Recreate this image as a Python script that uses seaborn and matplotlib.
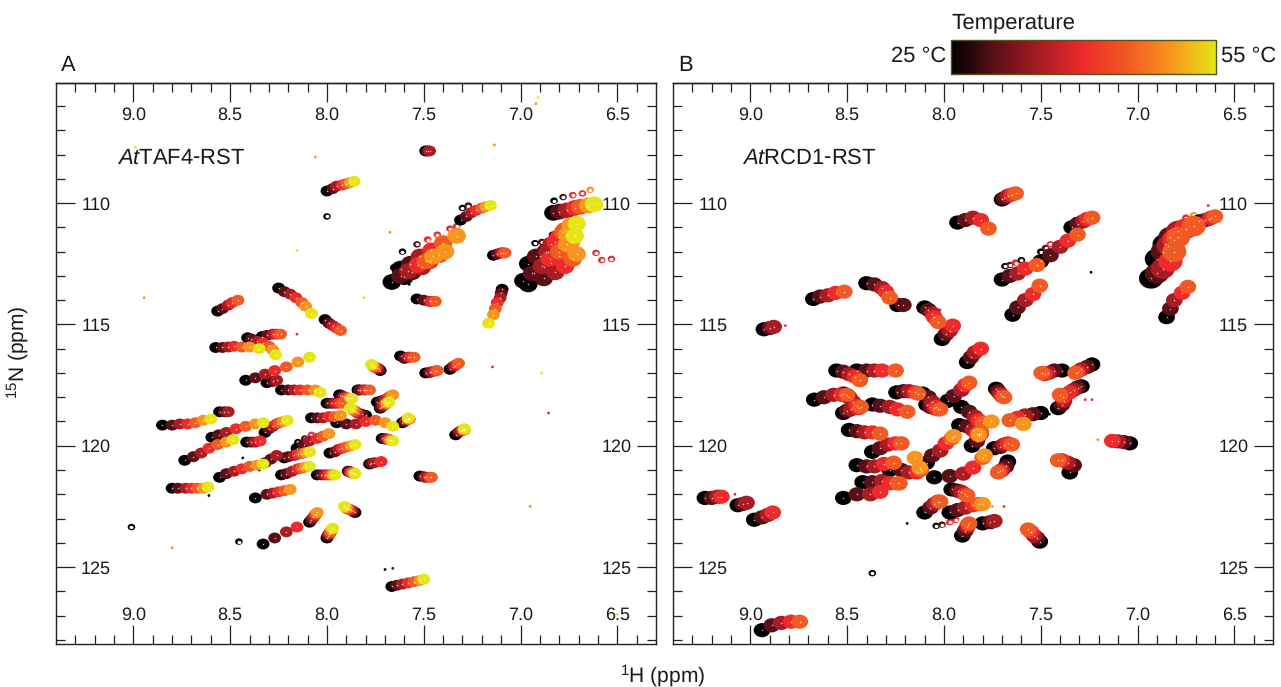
#!/usr/bin/python3
import numpy as np
import pandas as pd
import matplotlib
matplotlib.use("Agg")
import matplotlib.pyplot as plt
import seaborn as sns
from matplotlib.colors import LinearSegmentedColormap, Normalize
from matplotlib.cm import ScalarMappable
from matplotlib.path import Path
from matplotlib.transforms import Affine2D

sns.set_theme(style="ticks")
plt.rcParams["font.family"] = ["Liberation Sans", "DejaVu Sans"]
plt.rcParams["mathtext.fontset"] = "custom"
plt.rcParams["mathtext.rm"] = "Liberation Sans"
plt.rcParams["mathtext.it"] = "Liberation Sans:italic"
plt.rcParams["text.hinting"] = "none"
plt.rcParams["text.hinting_factor"] = 1

temps = [25, 30, 35, 40, 45, 50, 55]
cbar_colors = ["#000000", "#5a1016", "#a81c24", "#ee2a2a", "#f15a22", "#f7941e", "#e6e617"]
x_major = [9.0, 8.5, 8.0, 7.5, 7.0, 6.5]
y_major = [110, 115, 120, 125]

# peak positions (1H, 15N), one entry per temperature step
taf4_trails = [
    [(8.00,109.5),(7.97,109.4),(7.95,109.3),(7.92,109.25),(7.90,109.2),(7.88,109.15),(7.86,109.1)],
    [(7.49,107.85),(7.48,107.85),(7.47,107.85)],
    [(8.565,114.45),(8.54,114.35),(8.51,114.2),(8.49,114.1),(8.46,114.0)],
    [(8.25,113.5),(8.22,113.65),(8.19,113.75),(8.16,113.9),(8.13,114.1),(8.11,114.25),(8.08,114.55)],
    [(8.01,114.8),(7.99,114.95),(7.97,115.05),(7.95,115.15),(7.93,115.25)],
    [(8.575,115.95),(8.54,115.95),(8.51,115.93),(8.48,115.9),(8.44,115.93),(8.40,115.93),(8.35,116.0)],
    [(8.41,115.55),(8.39,115.6),(8.36,115.7),(8.33,115.75),(8.30,115.9),(8.28,116.05),(8.265,116.25)],
    [(8.335,115.5),(8.31,115.45),(8.28,115.4),(8.26,115.4),(8.24,115.4)],
    [(8.42,117.3),(8.37,117.2),(8.32,117.05),(8.27,116.9),(8.21,116.75),(8.15,116.55),(8.09,116.35)],
    [(8.31,117.4),(8.28,117.35),(8.26,117.3)],
    [(8.235,117.7),(8.20,117.7),(8.17,117.7),(8.14,117.7),(8.10,117.7),(8.06,117.7),(8.035,117.8)],
    [(8.0,118.25),(7.98,118.25),(7.96,118.25),(7.94,118.25),(7.92,118.25)],
    [(8.08,118.85),(8.05,118.85),(8.02,118.85),(7.99,118.8),(7.96,118.8),(7.93,118.75)],
    [(8.555,118.6),(8.53,118.6),(8.51,118.6)],
    [(8.85,119.15),(8.80,119.15),(8.76,119.1),(8.72,119.1),(8.68,119.05),(8.64,118.95),(8.60,118.9)],
    [(8.595,119.65),(8.56,119.55),(8.52,119.45),(8.47,119.3),(8.42,119.2),(8.37,119.1),(8.33,119.05)],
    [(8.735,120.6),(8.69,120.45),(8.65,120.3),(8.61,120.1),(8.565,119.95),(8.52,119.85),(8.485,119.75)],
    [(8.415,119.85),(8.39,119.85),(8.37,119.85),(8.345,119.8)],
    [(8.32,119.45),(8.30,119.3),(8.28,119.2),(8.26,119.1),(8.245,119.05),(8.225,119.0),(8.205,118.95)],
    [(8.555,121.3),(8.52,121.15),(8.48,121.05),(8.44,120.95),(8.40,120.85),(8.36,120.8),(8.33,120.75)],
    [(8.32,120.7),(8.29,120.55),(8.26,120.4)],
    [(8.80,121.75),(8.77,121.75),(8.73,121.75),(8.70,121.75),(8.67,121.75),(8.64,121.75),(8.615,121.7)],
    [(8.37,122.15),(8.31,122.0),(8.28,121.95),(8.25,121.9),(8.22,121.85),(8.19,121.8)],
    [(8.22,120.5),(8.20,120.45),(8.17,120.4),(8.15,120.35),(8.13,120.32),(8.11,120.28),(8.09,120.25)],
    [(8.155,120.1),(8.12,119.95),(8.09,119.8),(8.05,119.7),(8.02,119.6),(7.99,119.5)],
    [(8.235,121.2),(8.21,121.15),(8.18,121.05),(8.15,120.95),(8.13,120.92),(8.11,120.88),(8.09,120.85)],
    [(8.05,121.2),(8.03,121.2),(8.01,121.2),(7.995,121.2),(7.98,121.2),(7.97,121.2),(7.96,121.2)],
    [(7.985,120.3),(7.96,120.25),(7.94,120.15),(7.92,120.1),(7.90,120.05),(7.875,120.0),(7.855,119.95)],
    [(8.33,124.05),(8.27,123.8),(8.21,123.55),(8.155,123.35)],
    [(8.09,123.15),(8.08,123.05),(8.07,122.95),(8.06,122.85),(8.055,122.8),(8.05,122.75)],
    [(8.0,123.8),(7.995,123.7),(7.99,123.65),(7.985,123.6),(7.98,123.55),(7.975,123.45),(7.97,123.4)],
    [(7.62,116.3),(7.60,116.4),(7.58,116.35),(7.57,116.35),(7.55,116.35)],
    [(7.725,116.9),(7.73,116.85),(7.74,116.8),(7.75,116.78),(7.755,116.75),(7.765,116.7),(7.77,116.65)],
    [(7.49,117.0),(7.47,116.98),(7.46,116.95),(7.44,116.92),(7.43,116.9)],
    [(7.365,116.85),(7.35,116.75),(7.34,116.7),(7.33,116.65),(7.32,116.6)],
    [(7.935,117.9),(7.92,117.95),(7.91,118.0),(7.90,118.02),(7.89,118.03),(7.88,118.05),(7.87,118.05)],
    [(7.84,117.7),(7.83,117.7),(7.81,117.7),(7.80,117.7),(7.78,117.7)],
    [(7.74,118.2),(7.72,118.15),(7.70,118.1),(7.68,118.0),(7.67,117.95),(7.66,117.9)],
    [(7.725,118.45),(7.72,118.4),(7.71,118.35),(7.70,118.3),(7.695,118.25),(7.69,118.25),(7.68,118.2)],
    [(7.95,119.05),(7.90,119.1),(7.85,119.1),(7.80,119.0),(7.75,118.95),(7.70,119.05),(7.66,119.2)],
    [(7.80,118.75),(7.82,118.7),(7.84,118.65),(7.85,118.6),(7.86,118.55),(7.87,118.5),(7.88,118.45)],
    [(7.61,119.05),(7.60,119.0),(7.59,118.95),(7.58,118.9),(7.575,118.9),(7.58,118.9),(7.58,118.85)],
    [(7.715,119.7),(7.70,119.72),(7.69,119.72),(7.68,119.75),(7.675,119.75),(7.67,119.78),(7.66,119.8)],
    [(7.335,119.55),(7.32,119.45),(7.31,119.4),(7.30,119.35),(7.295,119.35),(7.29,119.35),(7.29,119.3)],
    [(7.78,120.75),(7.77,120.72),(7.755,120.7),(7.72,120.65)],
    [(7.89,121.05),(7.885,121.07),(7.88,121.08),(7.875,121.1),(7.87,121.12),(7.86,121.13),(7.855,121.15)],
    [(7.52,121.25),(7.50,121.28),(7.49,121.3),(7.47,121.3),(7.46,121.3)],
    [(7.855,122.75),(7.865,122.7),(7.875,122.65),(7.885,122.62),(7.895,122.6),(7.90,122.55),(7.91,122.5)],
    [(7.665,125.8),(7.64,125.75),(7.61,125.7),(7.58,125.65),(7.55,125.6),(7.52,125.55),(7.50,125.5)],
    [(7.31,110.7),(7.28,110.55),(7.255,110.4),(7.23,110.3),(7.20,110.2),(7.18,110.15),(7.155,110.1)],
    [(7.14,112.15),(7.12,112.1),(7.10,112.05),(7.09,112.05),(7.08,112.05)],
    [(7.095,113.55),(7.10,113.7),(7.105,113.9),(7.12,114.1),(7.13,114.35),(7.14,114.6),(7.165,114.95)],
    [(7.535,113.95),(7.50,114.0),(7.47,114.05),(7.46,114.05),(7.44,114.05)],
]
taf4_broad = [
    [(7.665,113.25),(7.62,113.0),(7.58,112.8),(7.53,112.55),(7.49,112.4),(7.45,112.2)],
    [(7.62,112.7),(7.57,112.5),(7.52,112.2),(7.46,111.95),(7.40,111.65),(7.33,111.35)],
    [(7.60,113.05),(7.56,112.85),(7.51,112.65),(7.47,112.4),(7.42,112.15),(7.39,112.0)],
    [(6.985,113.2),(6.94,112.9),(6.89,112.6),(6.85,112.3),(6.80,112.0),(6.76,111.7),(6.72,111.35)],
    [(6.96,112.5),(6.92,112.2),(6.86,112.0),(6.82,111.6),(6.78,111.2),(6.74,110.9),(6.71,110.85)],
    [(6.96,113.35),(6.88,113.1),(6.82,112.85),(6.77,112.6),(6.73,112.3),(6.71,112.1)],
    [(6.93,112.9),(6.88,112.65),(6.84,112.45),(6.80,112.2),(6.77,111.9),(6.74,111.6)],
    [(6.90,112.2),(6.87,112.0),(6.84,111.7),(6.80,111.4),(6.77,111.1),(6.76,111.3)],
    [(6.83,110.4),(6.80,110.35),(6.76,110.3),(6.72,110.2),(6.69,110.15),(6.65,110.1),(6.62,110.05)],
]
taf4_rings = [
    (8.0,110.55,25),(7.30,110.2,25),(7.27,110.1,30),(7.48,111.5,40),(7.43,111.3,40),(7.365,111.05,40),
    (7.33,110.95,40),(7.61,112.0,25),(7.535,111.7,30),(7.655,112.65,25),(6.827,109.9,25),(6.78,109.75,30),
    (6.73,109.67,40),(6.68,109.6,40),(6.64,109.45,50),(6.61,112.05,40),(6.58,112.35,40),(6.53,112.3,40),
    (6.925,111.65,25),(6.89,111.6,30),(6.835,111.3,30),(8.15,119.85,25),(8.115,119.7,30),(8.08,119.55,40),
    (8.455,123.95,25),(9.01,123.35,25),
]
taf4_specks = [
    (6.91,105.65,55),(6.92,105.9,50),(7.135,107.6,50),(8.06,108.1,50),(8.155,111.95,55),(8.945,113.9,50),
    (7.81,113.9,55),(8.155,115.4,40),(8.99,107.7,55),(7.145,116.75,40),(6.89,117.0,55),(6.855,118.65,40),
    (6.95,122.5,50),(8.80,124.2,50),(7.66,125.05,30),(7.70,125.1,25),(6.5,126.95,55),(7.675,111.2,50),
    (8.435,120.5,25),(8.35,121.0,25),(8.61,122.05,25),(7.575,113.35,25),
]

rcd1_trails = [
    [(8.93,115.2),(8.90,115.15),(8.88,115.1)],
    [(8.675,113.95),(8.64,113.85),(8.60,113.8),(8.56,113.7),(8.515,113.65)],
    [(8.40,113.3),(8.36,113.35),(8.32,113.5),(8.30,113.65),(8.28,113.9)],
    [(8.24,114.2),(8.21,114.2)],
    [(8.10,114.3),(8.08,114.4),(8.06,114.55),(8.05,114.7),(8.03,114.9)],
    [(8.01,115.6),(7.99,115.4),(7.97,115.25),(7.955,115.05)],
    [(8.555,116.9),(8.52,116.95),(8.49,117.05),(8.46,117.15),(8.435,117.3)],
    [(8.45,116.9),(8.40,116.9),(8.36,116.9),(8.32,116.9),(8.25,116.9)],
    [(8.67,118.1),(8.62,118.0),(8.57,117.9),(8.53,117.9),(8.50,117.9)],
    [(8.52,117.85),(8.49,118.0),(8.47,118.2),(8.45,118.35),(8.43,118.4)],
    [(8.52,118.65),(8.50,118.55),(8.48,118.5),(8.44,118.45)],
    [(8.37,118.3),(8.33,118.35),(8.28,118.4),(8.24,118.5),(8.19,118.6)],
    [(8.245,117.8),(8.21,117.75),(8.18,117.75),(8.15,117.8),(8.135,117.85)],
    [(8.09,118.3),(8.07,118.4),(8.05,118.45),(8.03,118.5)],
    [(7.70,109.85),(7.69,109.8),(7.67,109.7),(7.65,109.65),(7.63,109.6)],
    [(7.93,110.8),(7.89,110.7),(7.85,110.6),(7.81,110.7),(7.77,111.05)],
    [(7.70,113.15),(7.66,113.0),(7.62,112.9),(7.58,112.7),(7.52,112.55)],
    [(7.50,112.4),(7.45,112.15),(7.40,111.8),(7.36,111.55),(7.31,111.3)],
    [(7.34,111.0),(7.31,110.85),(7.28,110.75),(7.26,110.65),(7.235,110.6)],
    [(7.645,114.6),(7.62,114.3),(7.58,114.0),(7.54,113.75),(7.505,113.4)],
    [(6.68,110.75),(6.65,110.7),(6.63,110.65),(6.62,110.6),(6.60,110.55)],
    [(6.85,114.7),(6.83,114.35),(6.81,114.0),(6.77,113.7),(6.74,113.45)],
    [(7.88,116.55),(7.86,116.35),(7.84,116.15),(7.81,116.0)],
    [(7.39,116.9),(7.43,116.9),(7.46,117.0),(7.48,117.05),(7.495,117.0)],
    [(7.235,116.65),(7.26,116.75),(7.29,116.85),(7.31,116.95),(7.32,117.0)],
    [(7.41,118.45),(7.39,118.3),(7.38,118.15),(7.385,118.0),(7.40,117.9)],
    [(7.29,117.55),(7.31,117.6),(7.33,117.7),(7.35,117.8)],
    [(7.73,117.65),(7.72,117.75),(7.71,117.85),(7.70,117.95),(7.69,118.0)],
    [(8.11,117.85),(8.08,118.0),(8.06,118.2),(8.04,118.4),(8.02,118.5)],
    [(7.98,118.15),(7.95,117.95),(7.91,117.7),(7.89,117.5),(7.87,117.4)],
    [(7.91,118.4),(7.87,118.6),(7.84,118.8),(7.82,118.95),(7.80,119.05),(7.755,119.0)],
    [(7.92,119.15),(7.88,119.2),(7.85,119.35),(7.83,119.5),(7.82,119.5),(7.82,119.55)],
    [(7.855,120.0),(7.83,119.8),(7.82,119.6),(7.81,119.5),(7.81,119.4)],
    [(7.50,118.65),(7.54,118.7),(7.58,118.75),(7.62,118.85),(7.66,118.95),(7.59,119.1)],
    [(7.74,120.1),(7.71,120.05),(7.69,119.95),(7.67,119.9),(7.65,119.95)],
    [(7.67,120.65),(7.68,120.85),(7.70,121.0),(7.71,121.05),(7.72,121.1)],
    [(8.09,120.7),(8.06,120.4),(8.02,120.2),(7.99,119.9),(7.96,119.7),(7.95,119.6)],
    [(8.05,121.3),(7.97,121.25),(7.90,121.15),(7.85,120.9),(7.80,120.5),(7.79,120.4)],
    [(7.96,121.8),(7.93,121.85),(7.91,121.9),(7.89,122.0),(7.88,122.05)],
    [(8.10,122.75),(8.07,122.55),(8.05,122.4),(8.03,122.3),(8.02,122.3)],
    [(7.97,122.75),(7.93,122.65),(7.89,122.55),(7.85,122.45),(7.82,122.4),(7.80,122.4)],
    [(7.905,123.7),(7.89,123.5),(7.88,123.35),(7.875,123.25),(7.87,123.2)],
    [(7.505,123.95),(7.52,123.8),(7.535,123.7),(7.55,123.55),(7.565,123.45)],
    [(7.35,121.1),(7.33,120.8),(7.36,120.7),(7.39,120.6),(7.41,120.6)],
    [(7.04,119.9),(7.07,119.85),(7.10,119.82),(7.13,119.8)],
    [(8.45,120.8),(8.40,120.85),(8.36,120.85),(8.31,120.75),(8.26,120.7),(8.15,120.5)],
    [(8.42,121.5),(8.37,121.5),(8.32,121.45),(8.28,121.55),(8.23,121.55),(8.125,120.9)],
    [(8.52,122.15),(8.45,122.0),(8.38,122.0),(8.33,121.9),(8.24,121.55)],
    [(8.28,121.0),(8.22,121.0),(8.18,121.1),(8.14,121.1),(8.12,121.0)],
    [(8.37,120.25),(8.33,120.1),(8.29,119.95),(8.25,119.9),(8.22,119.9)],
    [(8.49,119.35),(8.45,119.4),(8.41,119.45),(8.37,119.45),(8.33,119.5)],
    [(9.235,122.15),(9.20,122.15),(9.17,122.1),(9.15,122.1)],
    [(9.065,122.45),(9.04,122.4),(9.02,122.35)],
    [(8.98,123.05),(8.94,122.95),(8.91,122.85),(8.885,122.75)],
    [(8.94,127.6),(8.89,127.4),(8.84,127.3),(8.79,127.25),(8.745,127.25)],
    [(7.80,123.2),(7.76,123.15),(7.74,123.1)],
]
rcd1_broad = [
    [(6.93,113.1),(6.90,112.9),(6.87,112.7),(6.83,112.4),(6.81,112.0)],
    [(6.90,112.3),(6.87,112.0),(6.84,111.75),(6.81,111.5),(6.79,111.4)],
    [(6.86,111.7),(6.83,111.4),(6.79,111.15),(6.75,111.05),(6.71,110.95)],
]
rcd1_rings = [
    (7.685,112.6,25),(7.66,112.55,30),(7.63,112.45,40),(7.60,112.35,25),(7.50,112.0,25),(7.475,111.85,30),
    (7.45,111.7,40),(7.29,110.9,25),(6.93,112.1,25),(6.89,111.95,30),(6.84,111.7,25),(6.77,110.9,30),
    (6.75,110.6,40),(6.71,110.5,50),(8.04,123.3,25),(8.01,123.25,30),(7.97,123.15,40),(7.94,123.05,40),
    (8.37,125.25,25),
]
rcd1_specks = [
    (7.27,118.1,40),(7.235,118.1,40),(7.75,122.5,50),(7.69,122.5,40),(7.455,118.7,25),(7.24,112.85,25),
    (6.635,110.1,40),(8.02,114.4,40),(8.19,123.2,25),(9.08,122.0,40),(8.82,115.05,40),(7.205,119.75,50),
]

temp_cmap = LinearSegmentedColormap.from_list("temp", cbar_colors)
blob = Path.unit_circle().transformed(Affine2D().scale(1.0, 0.85))


def trail_frame(trails):
    rows = []
    for trail in trails:
        for t, (h, n) in zip(temps, trail):
            rows.append((h, n, t))
    df = pd.DataFrame(rows, columns=["H", "N", "temp"])
    return df.sort_values("temp", kind="stable")


def draw_panel(ax, trails, broad, rings, specks, size):
    common = dict(x="H", y="N", hue="temp", hue_norm=(25, 55), palette=temp_cmap, legend=False, ax=ax, linewidth=0)
    ring_df = pd.DataFrame(rings, columns=["H", "N", "temp"])
    sns.scatterplot(data=ring_df, s=30, marker=blob, zorder=2, **common)
    sns.scatterplot(data=ring_df, x="H", y="N", s=8, color="white", marker=blob, linewidth=0, legend=False, ax=ax, zorder=2.1)
    speck_df = pd.DataFrame(specks, columns=["H", "N", "temp"])
    sns.scatterplot(data=speck_df, s=4, marker="o", zorder=2.2, **common)
    df = pd.concat([trail_frame(trails).assign(s=size), trail_frame(broad).assign(s=size * 2.1)]).sort_values("temp", kind="stable")
    sns.scatterplot(data=df, size="s", sizes=(size, size * 2.1), marker=blob, zorder=3, **common)
    sns.scatterplot(data=df, x="H", y="N", s=1.2, color="white", alpha=0.7, linewidth=0, legend=False, ax=ax, zorder=3.1)

    ax.set_xlim(9.40, 6.30)
    ax.set_ylim(128.17, 105.05)
    ax.set_xticks(x_major)
    ax.set_xticklabels(["%.1f" % v for v in x_major])
    ax.set_xticks(np.arange(6.4, 9.4, 0.1), minor=True)
    ax.set_yticks(y_major)
    ax.set_yticks(np.arange(106, 129, 1), minor=True)
    ax.set_xlabel("")
    ax.set_ylabel("")
    ax.tick_params(axis="x", which="major", direction="in", length=13.7, width=0.9, top=True, bottom=True,
                   labeltop=False, labelbottom=True, pad=-26.5, labelsize=13.3, color="#222222", labelcolor="#1a1a1a")
    ax.tick_params(axis="y", which="major", direction="in", length=13.7, width=0.9, left=True, right=True,
                   labelleft=True, labelright=True, pad=-39.5, labelsize=13.3, color="#222222", labelcolor="#1a1a1a")
    ax.tick_params(which="minor", direction="in", length=6.5, width=0.9, top=True, bottom=True, left=True, right=True,
                   color="#222222")
    # top labels sit a little further in than the bottom ones
    sec = ax.secondary_xaxis("top")
    sec.set_xticks(x_major)
    sec.set_xticklabels(["%.1f" % v for v in x_major])
    sec.tick_params(direction="in", length=0, pad=-29.5, labelsize=13.3, labelcolor="#1a1a1a")
    sec.spines["top"].set_linewidth(1.0)
    sec.spines["top"].set_color("#222222")
    for sp in ax.spines.values():
        sp.set_visible(True)
        sp.set_linewidth(1.0)
        sp.set_color("#222222")


W, H = 1281, 687
fig = plt.figure(figsize=(W / 100, H / 100), dpi=100)


def box(x0, y0, x1, y1):
    return [x0 / W, 1 - y1 / H, (x1 - x0) / W, (y1 - y0) / H]


ax_a = fig.add_axes(box(56, 83, 656, 644))
ax_b = fig.add_axes(box(673, 83, 1273, 644))
draw_panel(ax_a, taf4_trails, taf4_broad, taf4_rings, taf4_specks, 85)
draw_panel(ax_b, rcd1_trails, rcd1_broad, rcd1_rings, rcd1_specks, 145)

txt = "#1a1a1a"
fig.text(61 / W, 1 - 65 / H, "A", fontsize=16, va="center", color=txt)
fig.text(678 / W, 1 - 65 / H, "B", fontsize=16, va="center", color=txt)
fig.text(117 / W, 1 - 158 / H, r"$\mathit{At}$TAF4-RST", fontsize=15.5, va="center", color=txt)
fig.text(742 / W, 1 - 158 / H, r"$\mathit{At}$RCD1-RST", fontsize=15.5, va="center", color=txt)
fig.text(663 / W, 1 - 676 / H, r"$^{1}$H (ppm)", fontsize=15, ha="center", va="center", color=txt)
fig.text(18 / W, 1 - 352 / H, r"$^{15}$N (ppm)", fontsize=15, rotation=90, ha="center", va="center", color=txt)

cax = fig.add_axes(box(951, 40, 1216, 74))
cb = fig.colorbar(ScalarMappable(Normalize(25, 55), temp_cmap), cax=cax, orientation="horizontal")
cb.set_ticks([])
cb.outline.set_edgecolor("#55551a")
cb.outline.set_linewidth(1.0)
fig.text(951 / W, 1 - 23 / H, "Temperature", fontsize=15.8, va="center", color=txt)
fig.text(946 / W, 1 - 56 / H, "25 °C", fontsize=15.8, ha="right", va="center", color=txt)
fig.text(1221 / W, 1 - 56 / H, "55 °C", fontsize=15.8, ha="left", va="center", color=txt)

fig.savefig("out.png", dpi=100)
